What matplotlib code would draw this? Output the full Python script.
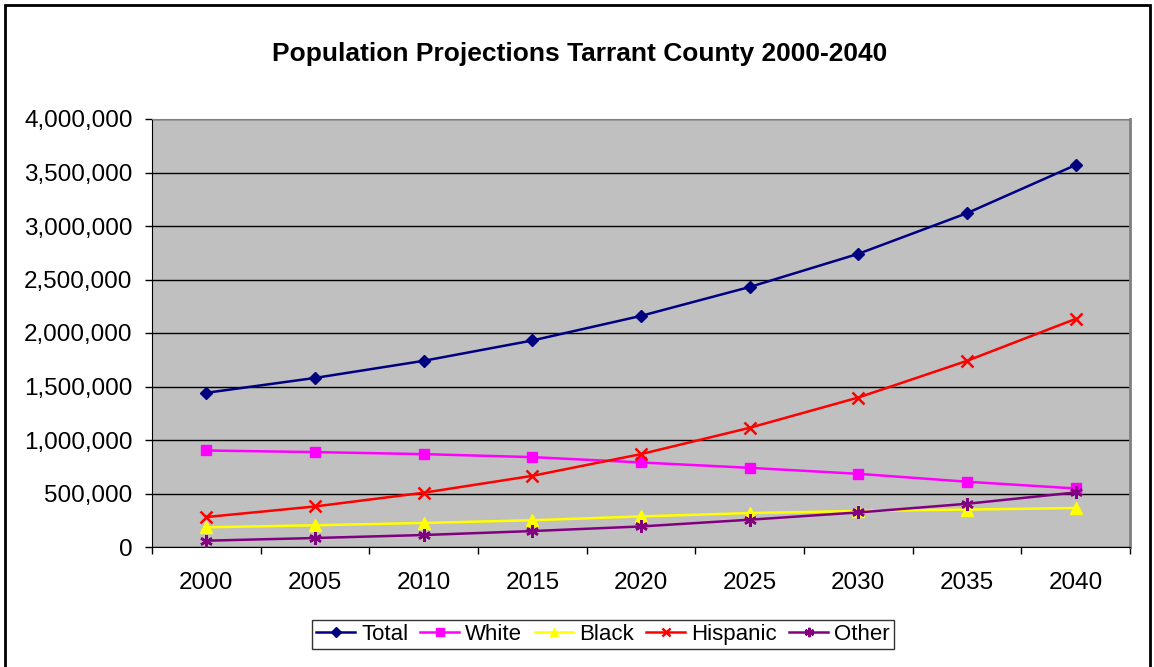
import matplotlib.pyplot as plt
from matplotlib.patches import Rectangle
from matplotlib.ticker import FuncFormatter

plt.rcParams["font.family"] = ["Liberation Sans", "DejaVu Sans"]

# Data
years = ["2000", "2005", "2010", "2015", "2020", "2025", "2030", "2035", "2040"]
total = [1441000, 1580000, 1740000, 1930000, 2160000, 2430000, 2740000, 3120000, 3570000]
white = [902000, 887000, 868000, 840000, 790000, 740000, 684000, 610000, 547000]
black = [184000, 203000, 225000, 250000, 286000, 317000, 337000, 350000, 364000]
hispanic = [280000, 379000, 507000, 665000, 868000, 1114000, 1397000, 1740000, 2132000]
other = [59000, 84000, 112000, 149000, 192000, 255000, 323000, 404000, 510000]

series = [
    ("Total", total, "#000080", "D", 6.5),
    ("White", white, "#FF00FF", "s", 7),
    ("Black", black, "#FFFF00", "^", 8),
    ("Hispanic", hispanic, "#FF0000", "x", 8),
    ("Other", other, "#800080", (6, 2, 0), 9),
]

fig = plt.figure(figsize=(11.54, 6.67), dpi=100)
ax = fig.add_axes([152 / 1154, 120 / 667, (1130 - 152) / 1154, (547 - 119) / 667])
ax.set_facecolor("#C0C0C0")

x = list(range(len(years)))
for name, vals, color, marker, ms in series:
    ax.plot(x, vals, color=color, marker=marker, markersize=ms, linewidth=1.8,
            markeredgewidth=1.8 if marker in ("x", (6, 2, 0)) else 1,
            label=name, zorder=3)

ax.set_xlim(-0.5, len(years) - 0.5)
ax.set_ylim(0, 4000000)
ax.set_yticks(range(0, 4000001, 500000))
ax.yaxis.set_major_formatter(FuncFormatter(lambda v, p: f"{int(v):,}"))
ax.set_xticks(x)
ax.set_xticklabels(years)
ax.set_xticks([i - 0.5 for i in range(len(years) + 1)], minor=True)
ax.tick_params(axis="x", which="major", length=0, pad=18, labelsize=17.5)
ax.tick_params(axis="x", which="minor", length=5, width=1, color="black")
ax.tick_params(axis="y", length=5, width=1, pad=9, labelsize=17.5)

ax.grid(axis="y", color="black", linewidth=1, zorder=1)
ax.set_axisbelow(True)
ax.spines["top"].set_color("#808080")
ax.spines["right"].set_color("#808080")
ax.spines["right"].set_linewidth(2)
ax.spines["left"].set_color("black")
ax.spines["bottom"].set_color("black")

fig.text(580 / 1154, 1 - 54 / 667, "Population Projections Tarrant County 2000-2040",
         ha="center", va="center", fontsize=19, fontweight="bold")

leg = ax.legend(loc="center", bbox_to_anchor=(603 / 1154, 1 - 634.5 / 667),
                bbox_transform=fig.transFigure, ncol=5, fontsize=16, frameon=True,
                fancybox=False, edgecolor="black", handlelength=1.75, handletextpad=0.27,
                columnspacing=0.55, borderpad=0.2, borderaxespad=0, markerscale=0.75)
leg.get_frame().set_linewidth(1)

# Outer chart border
fig.patches.append(Rectangle((5 / 1154, -0.01), (1150 - 5) / 1154, 1 - 5 / 667 + 0.01,
                             transform=fig.transFigure, fill=False,
                             edgecolor="black", linewidth=2))

fig.savefig("out.png", dpi=100)
